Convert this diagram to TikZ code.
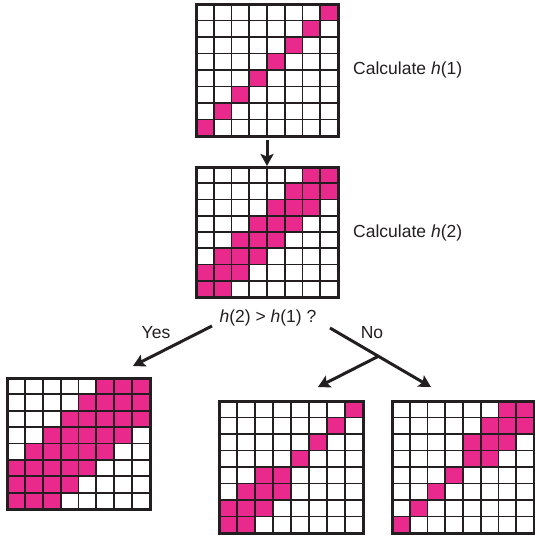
\documentclass[tikz,border=0pt]{standalone}
\usepackage{fontspec}
\setmainfont{Liberation Sans}
\usetikzlibrary{arrows.meta}
\definecolor{mag}{HTML}{E92A8C}
\definecolor{ink}{HTML}{231F20}
\tikzset{
  cellfill/.style={fill=mag},
  innerline/.style={draw=ink, line width=1.8pt},
  outerline/.style={draw=ink, line width=3pt},
  arrowline/.style={draw=ink, line width=3pt, -{Stealth[length=12pt,width=13pt,inset=2.5pt]}},
  lbl/.style={font=\fontsize{17.5}{20}\selectfont, text=ink, inner sep=0pt},
}
\newcommand\pixgrid[5]{%
  \pgfmathsetmacro\gcw{(#3-#1)/8}%
  \pgfmathsetmacro\gch{(#4-#2)/8}%
  \foreach \r/\c in {#5} {
    \fill[cellfill] ({#1+\c*\gcw},{#2+\r*\gch}) rectangle ++(\gcw,\gch);
  }
  \foreach \i in {1,...,7} {
    \draw[innerline] ({#1+\i*\gcw},#2) -- ++(0,{8*\gch});
    \draw[innerline] (#1,{#2+\i*\gch}) -- ++({8*\gcw},0);
  }
  \draw[outerline] (#1,#2) rectangle (#3,#4);
}
\begin{document}
\begin{tikzpicture}[x=1pt,y=-1pt]
\useasboundingbox (0,0) rectangle (535,538);
% grid 1
\pixgrid{196}{4}{338}{136}{0/7,1/6,2/5,3/4,4/3,5/2,6/1,7/0}
% grid 2
\pixgrid{196}{167}{338}{297}{0/6,0/7,1/5,1/6,1/7,2/4,2/5,2/6,3/3,3/4,3/5,4/2,4/3,4/4,5/1,5/2,5/3,6/0,6/1,6/2,7/0,7/1}
% grid 3 (Yes)
\pixgrid{7}{378}{150}{509}{0/5,0/6,0/7,1/4,1/5,1/6,1/7,2/3,2/4,2/5,2/6,2/7,3/2,3/3,3/4,3/5,3/6,4/1,4/2,4/3,4/4,4/5,5/0,5/1,5/2,5/3,5/4,6/0,6/1,6/2,6/3,7/0,7/1,7/2}
% grid 4
\pixgrid{219}{401}{363}{533}{0/7,1/6,2/5,3/4,4/2,4/3,5/1,5/2,5/3,6/0,6/1,6/2,7/0,7/1}
% grid 5
\pixgrid{392}{401}{534}{533}{0/6,0/7,1/5,1/6,1/7,2/4,2/5,2/6,3/4,3/5,4/3,5/2,6/1,7/0}
% labels
\node[lbl, anchor=west] (c1) at (353,70) {Calculate \textit{h}(1)};
\node[lbl, anchor=west] (c2) at (353,233) {Calculate \textit{h}(2)};
\node[lbl] (q) at (268,318) {\textit{h}(2) > \textit{h}(1) ?};
\node[lbl] (yes) at (156,333) {Yes};
\node[lbl] (no) at (372,333) {No};
% arrows
\coordinate (d0) at (267,140);
\coordinate (d1) at (267,166);
\coordinate (y0) at (212,326);
\coordinate (y1) at (133,366);
\coordinate (n0) at (330,328);
\coordinate (n1) at (431,387);
\coordinate (nb) at (378,356.5);
\coordinate (n2) at (318,387);
\draw[arrowline] (d0) -- (d1);
\draw[arrowline] (y0) -- (y1);
\draw[arrowline] (n0) -- (n1);
\draw[arrowline] (nb) -- (n2);
\end{tikzpicture}
\end{document}
